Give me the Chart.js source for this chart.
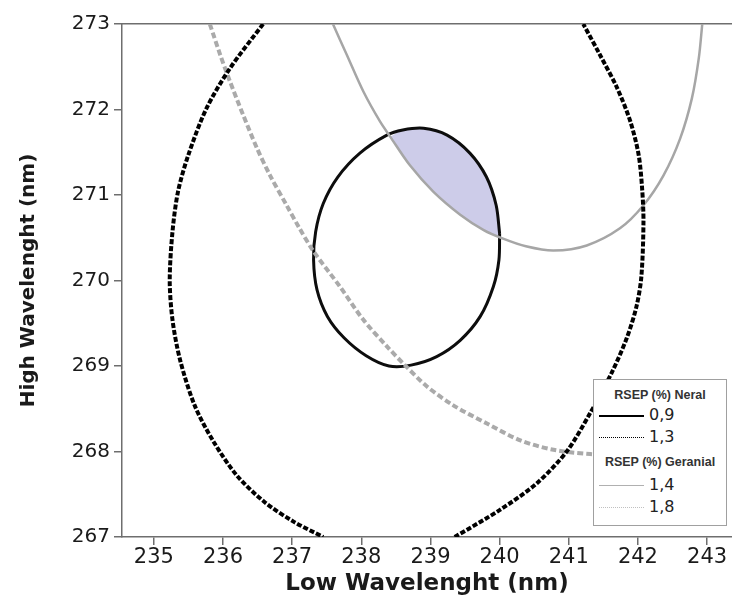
<!DOCTYPE html>
<html>
<head>
<meta charset="utf-8">
<script src="https://cdn.jsdelivr.net/npm/chart.js@4.4.1/dist/chart.umd.min.js"></script>
<style>
  html, body { margin: 0; padding: 0; background: #fff; }
  #wrap { position: relative; width: 732px; height: 604px; }
  #legend {
    position: absolute; left: 593px; top: 379px; width: 134px; height: 147px;
    background: #fff; border: 1px solid #a0a0a0; box-sizing: border-box;
  }
  .lg-head {
    position: absolute; left: 0; width: 100%; text-align: center;
    font: bold 12.5px "Liberation Sans", Arial, sans-serif; color: #333;
  }
  .lg-line { position: absolute; left: 5px; width: 45px; height: 0; }
  .lg-txt {
    position: absolute; left: 55px;
    font: 16px "DejaVu Sans", Verdana, sans-serif; color: #222;
  }
</style>
</head>
<body>
<div id="wrap">
  <canvas id="chart" width="732" height="604"></canvas>
  <div id="legend">
    <div class="lg-head" style="top:8px;">RSEP (%) Neral</div>
    <div class="lg-line" style="top:35px; border-top:2px solid #000;"></div>
    <div class="lg-txt" style="top:25px;">0,9</div>
    <div class="lg-line" style="top:57px; border-top:1px dotted #000;"></div>
    <div class="lg-txt" style="top:47px;">1,3</div>
    <div class="lg-head" style="top:75px;">RSEP (%) Geranial</div>
    <div class="lg-line" style="top:105px; border-top:1px solid #b0b0b0;"></div>
    <div class="lg-txt" style="top:95px;">1,4</div>
    <div class="lg-line" style="top:127px; border-top:1px dotted #c0c0c0;"></div>
    <div class="lg-txt" style="top:117px;">1,8</div>
  </div>
</div>
<script>
// ─── Data ───────────────────────────────────────────────────────
const xTicks = [235, 236, 237, 238, 239, 240, 241, 242, 243];
const yTicks = [267, 268, 269, 270, 271, 272, 273];

// Neral, RSEP 0,9 (solid black closed contour, starts at its right edge)
const neral09X = [240.00, 239.95, 239.81, 239.57, 239.24, 238.90, 238.60, 238.37, 237.98, 237.66, 237.45, 237.34,
  237.31, 237.36, 237.51, 237.75, 238.07, 238.40, 238.72, 239.09, 239.43, 239.72, 239.91, 239.99, 240.00];
const neral09Y = [270.55, 270.88, 271.21, 271.49, 271.70, 271.78, 271.76, 271.70, 271.49, 271.21, 270.90, 270.57,
  270.24, 269.89, 269.58, 269.33, 269.12, 269.00, 269.01, 269.11, 269.30, 269.58, 269.93, 270.24, 270.55];

// Neral, RSEP 1,3 (black dashed, two visible arcs; null = break)
const neral13X = [236.58, 236.10, 235.76, 235.50, 235.35, 235.27, 235.23, 235.27, 235.38, 235.59, 235.86, 236.20,
  236.60, 237.02, 237.45, null, 239.35, 240.01, 240.54, 240.97, 241.31, 241.62, 241.84, 241.98, 242.05,
  242.08, 242.06, 242.01, 241.89, 241.70, 241.45, 241.21];
const neral13Y = [273.00, 272.48, 272.01, 271.47, 271.04, 270.57, 270.00, 269.54, 269.07, 268.54, 268.12, 267.72,
  267.41, 267.18, 267.00, null, 267.00, 267.32, 267.63, 268.00, 268.45, 268.92, 269.33, 269.70, 270.05,
  270.69, 271.08, 271.47, 271.86, 272.25, 272.64, 273.00];

// Geranial, RSEP 1,4 (solid grey)
const geranial14X = [237.59, 237.79, 238.03, 238.27, 238.42, 238.70, 239.04, 239.43, 239.77, 240.05, 240.38, 240.78,
  241.26, 241.74, 242.08, 242.37, 242.61, 242.78, 242.88, 242.93];
const geranial14Y = [273.00, 272.64, 272.21, 271.86, 271.68, 271.35, 271.04, 270.77, 270.59, 270.49, 270.40, 270.35,
  270.41, 270.61, 270.88, 271.23, 271.66, 272.13, 272.60, 273.00];

// Geranial, RSEP 1,8 (dashed grey)
const geranial18X = [235.81, 235.96, 236.10, 236.29, 236.49, 236.68, 236.92, 237.10, 237.31, 237.69, 238.03, 238.37,
  238.63, 238.95, 239.33, 239.81, 240.30, 240.78, 241.31, 241.75];
const geranial18Y = [273.00, 272.64, 272.33, 271.94, 271.55, 271.23, 270.88, 270.62, 270.34, 269.93, 269.54, 269.23,
  269.01, 268.76, 268.54, 268.33, 268.13, 268.02, 267.97, 267.96];

// Shaded overlap (0,9 contour above the 1,4 curve)
const overlapX = [238.42, 238.60, 238.90, 239.24, 239.57, 239.81, 239.95, 240.00, 239.77, 239.43, 239.04, 238.70, 238.42];
const overlapY = [271.68, 271.76, 271.78, 271.70, 271.49, 271.21, 270.88, 270.53, 270.59, 270.77, 271.04, 271.35, 271.68];

// ─── Helpers ───────────────────────────────────────────────────
const pts = (xs, ys) => xs.map((x, i) => ({ x, y: ys[i] }));
const FAMILY = "'DejaVu Sans', Verdana, sans-serif";
const yTickFont = { family: FAMILY, size: 20 };
const xTickFont = { family: FAMILY, size: 21 };
const yTitleFont = { family: FAMILY, size: 20, weight: 'bold' };
const xTitleFont = { family: FAMILY, size: 23, weight: 'bold' };
const axisColor = '#6e6e6e';

const lineBase = { showLine: true, pointRadius: 0, pointHoverRadius: 0, tension: 0.3, clip: 0, fill: false };

new Chart(document.getElementById('chart').getContext('2d'), {
  type: 'scatter',
  data: {
    datasets: [
      { ...lineBase, label: 'overlap', data: pts(overlapX, overlapY), borderWidth: 0,
        backgroundColor: '#cdcce9', fill: 'shape', order: 6 },
      { ...lineBase, label: '0,9', data: pts(neral09X, neral09Y), borderColor: '#0d0d0d', borderWidth: 3, order: 4 },
      { ...lineBase, label: '1,4', data: pts(geranial14X, geranial14Y), borderColor: '#a6a6a6', borderWidth: 2.5, order: 3 },
      { ...lineBase, label: '1,8', data: pts(geranial18X, geranial18Y), borderColor: '#aaaaaa', borderWidth: 4,
        borderDash: [6, 3], order: 2 },
      { ...lineBase, label: '1,3', data: pts(neral13X, neral13Y), borderColor: '#000', borderWidth: 4,
        borderDash: [5, 2], spanGaps: false, order: 1 },
    ]
  },
  options: {
    responsive: false,
    animation: false,
    layout: { padding: { top: 24, right: 0, bottom: 0, left: 0 } },
    plugins: { legend: { display: false }, tooltip: { enabled: false } },
    scales: {
      x: {
        type: 'linear', position: 'bottom', min: 234.54, max: 243.36,
        afterBuildTicks: (s) => { s.ticks = xTicks.map(v => ({ value: v })); },
        afterFit: (s) => { s.height = 67; },
        grid: { drawOnChartArea: false, drawTicks: true, tickLength: 8, color: axisColor, lineWidth: 1.5 },
        border: { display: true, color: axisColor, width: 1.5 },
        ticks: { font: xTickFont, color: '#1a1a1a', padding: 0, maxRotation: 0 },
        title: { display: true, text: 'Low Wavelenght (nm)', font: xTitleFont, color: '#1a1a1a', padding: { top: 0, bottom: 6 } }
      },
      x2: {
        type: 'linear', position: 'top', min: 234.54, max: 243.36,
        afterFit: (s) => { s.height = 0; },
        grid: { display: false },
        border: { display: true, color: axisColor, width: 1.5 },
        ticks: { display: false }
      },
      y: {
        type: 'linear', min: 267, max: 273,
        afterBuildTicks: (s) => { s.ticks = yTicks.map(v => ({ value: v })); },
        afterFit: (s) => { s.width = 122; },
        grid: { drawOnChartArea: false, drawTicks: true, tickLength: 8, color: axisColor, lineWidth: 1.5 },
        border: { display: true, color: axisColor, width: 1.5 },
        ticks: { font: yTickFont, color: '#1a1a1a', padding: 4 },
        title: { display: true, text: 'High Wavelenght (nm)', font: yTitleFont, color: '#1a1a1a', padding: { top: 17, bottom: 0 } }
      }
    }
  }
});
</script>
</body>
</html>
